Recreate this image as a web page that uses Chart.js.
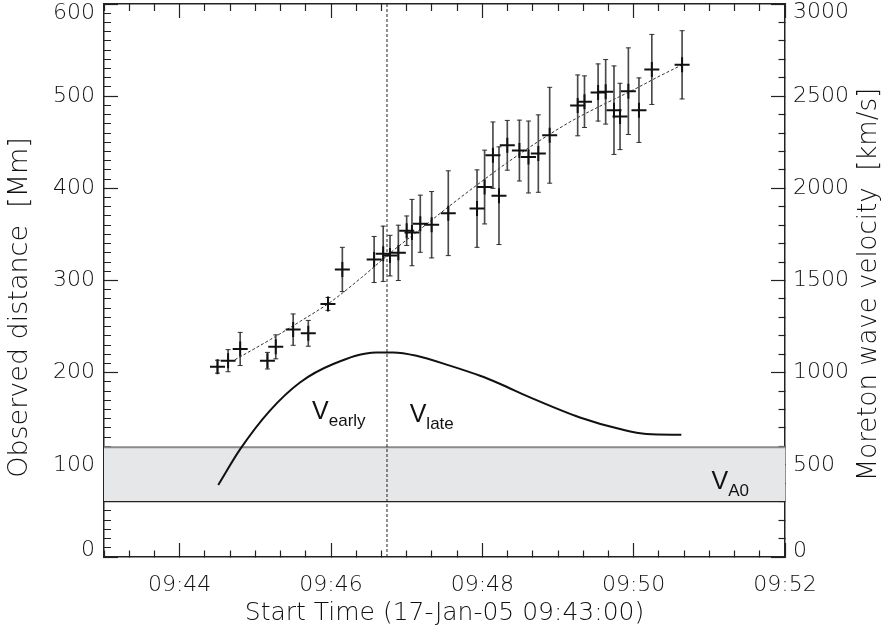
<!DOCTYPE html>
<html>
<head>
<meta charset="utf-8">
<title>Moreton wave distance / velocity</title>
<script src="https://cdn.jsdelivr.net/npm/chart.js@4.4.1/dist/chart.umd.min.js"></script>
<style>
  html, body { margin: 0; padding: 0; background: #fff; }
  #wrap { width: 888px; height: 632px; position: relative; }
</style>
</head>
<body>
<div id="wrap"><canvas id="waveChart"></canvas></div>
<script>
// ====================================================================================
// data (time in minutes after 09:00, distance in Mm, speed in km/s)
// ====================================================================================
var obsTime = [44.50, 44.64, 44.80, 45.16, 45.27, 45.50, 45.70, 45.96, 46.15, 46.57,
               46.69, 46.78, 46.89, 47.00, 47.07, 47.18, 47.33, 47.55, 47.93, 48.03,
               48.14, 48.22, 48.33, 48.49, 48.61, 48.74, 48.89, 49.26, 49.35, 49.53,
               49.63, 49.74, 49.82, 49.93, 50.07, 50.24, 50.64];
var obsDist = [206.5, 213, 225.7, 213, 228, 246.7, 242.7, 274.6, 312, 322.8,
               329, 327, 330, 354, 352, 361.6, 360.5, 373, 378, 401.4,
               436, 392, 446.7, 441, 434, 437.7, 457.6, 490, 494, 504,
               504.7, 484.8, 478, 505.4, 484.8, 529, 534];
var obsErr  = [7, 12, 18, 9, 13, 17, 14, 7, 24, 25,
               30, 22, 30, 16, 36, 31, 36, 46, 42, 40,
               36, 53, 27, 33, 39, 42, 52, 33, 28, 31,
               35, 48, 36, 47, 35, 38, 37];

// dashed fit through the distances
var fitTime = [44.73, 45.2, 45.6, 46.0, 46.4, 46.8, 47.2, 47.6, 48.0, 48.4, 48.8, 49.2, 49.6, 50.0, 50.3, 50.64];
var fitDist = [214, 236, 256, 277, 303, 331, 357, 383, 408, 432, 454, 474, 491, 507, 520, 534];

// velocity curve (right axis)
var velTime = [44.51, 44.80, 45.19, 45.59, 46.03, 46.60, 46.82, 47.13, 47.57, 47.97, 48.23, 48.63, 49.29, 49.82, 50.17, 50.63];
var velKms  = [391, 585, 793, 947, 1047, 1110, 1110, 1092, 1038, 983, 940, 866, 757, 694, 667, 663];

// V_A0 band (km/s) and the time of peak velocity
var bandKms = [300, 595];
var peakTime = 46.74;

// axes
var timeRange = [43, 52];
var xMajor = [44, 46, 48, 50, 52];
var xLabels = ['09:44', '09:46', '09:48', '09:50', '09:52'];
var distRange = [0, 600];
var distMajor = [0, 100, 200, 300, 400, 500, 600];
var distLabels = ['0', '100', '200', '300', '400', '500', '600'];
var velRange = [0, 3000];
var velMajor = [0, 500, 1000, 1500, 2000, 2500, 3000];
var velLabels = ['0', '500', '1000', '1500', '2000', '2500', '3000'];

var xTitle = 'Start Time (17-Jan-05 09:43:00)';
var yTitle = 'Observed distance  [Mm]';
var yRTitle = 'Moreton wave velocity  [km/s]';

// annotations: [big letter, subscript, time, km/s]
var notes = [
  ['V', 'early', 45.75, 750],
  ['V', 'late', 47.04, 730],
  ['V', 'A0', 51.03, 370]
];

// ====================================================================================

var AXIS_FONT = 'DejaVu Sans';
var INK = '#222';
var TEXT = '#111';

function majorIndex(list, v) {
  for (var i = 0; i < list.length; i++) {
    if (Math.abs(list[i] - v) < 1e-6) return i;
  }
  return -1;
}

function stepTicks(range, n) {
  var out = [];
  for (var i = 0; i <= n; i++) out.push({ value: range[0] + (range[1] - range[0]) * i / n });
  return out;
}

// one axis with long major and short minor (dashed away) tick marks, pointing inward
function makeAxis(opts) {
  return {
    type: 'linear',
    position: opts.position,
    min: opts.range[0],
    max: opts.range[1],
    offset: false,
    afterBuildTicks: function (scale) { scale.ticks = stepTicks(opts.range, opts.steps); },
    afterFit: function (scale) {
      if (opts.width !== undefined) scale.width = opts.width;
      if (opts.height !== undefined) scale.height = opts.height;
      // no extra room for labels hanging past the ends
      scale.paddingTop = scale.paddingBottom = scale.paddingLeft = scale.paddingRight = 0;
    },
    border: { display: true, color: INK, width: 1.5 },
    grid: {
      drawOnChartArea: false,
      drawTicks: true,
      offset: false,
      tickLength: -14,
      tickWidth: 1.2,
      tickColor: INK,
      tickBorderDash: function (ctx) {
        if (!ctx.tick || majorIndex(opts.major, ctx.tick.value) >= 0) return [];
        return opts.minorDash;
      }
    },
    ticks: {
      display: opts.labels !== undefined,
      autoSkip: false,
      maxRotation: 0,
      minRotation: 0,
      padding: opts.padding || 0,
      color: TEXT,
      font: function (ctx) {
        var lh = 1.2;
        if (ctx.tick && opts.nudge) {
          var k = majorIndex(opts.major, ctx.tick.value);
          if (k === 0) lh = opts.nudge[0] / 22;
          if (k === opts.major.length - 1) lh = opts.nudge[1] / 22;
        }
        return { family: AXIS_FONT, size: 22, weight: '200', lineHeight: lh };
      },
      callback: function (value) {
        if (!opts.labels) return '';
        var k = majorIndex(opts.major, value);
        if (k < 0) return '';
        if (opts.nudge && k === 0) return [opts.labels[k], ''];
        if (opts.nudge && k === opts.major.length - 1) return ['', opts.labels[k]];
        return opts.labels[k];
      }
    },
    title: opts.title || { display: false }
  };
}

// V with subscript text, placed through the chart scales
var notesPlugin = {
  id: 'notes',
  afterDatasetsDraw: function (chart) {
    var ctx = chart.ctx;
    var xs = chart.scales.x, ys = chart.scales.yR;
    ctx.save();
    ctx.fillStyle = '#111';
    ctx.textBaseline = 'alphabetic';
    ctx.textAlign = 'left';
    notes.forEach(function (n) {
      var px = xs.getPixelForValue(n[2]);
      var py = ys.getPixelForValue(n[3]);
      ctx.font = '25px "Liberation Sans"';
      ctx.fillText(n[0], px, py);
      var w = ctx.measureText(n[0]).width;
      ctx.font = '17px "Liberation Sans"';
      ctx.fillText(n[1], px + w, py + 7);
    });
    ctx.restore();
  }
};

// both side titles read bottom to top
var sideTitlePlugin = {
  id: 'sideTitles',
  afterDraw: function (chart) {
    var ctx = chart.ctx, area = chart.chartArea;
    var mid = (area.top + area.bottom) / 2;
    function put(text, x, y, size) {
      ctx.save();
      ctx.translate(x, y);
      ctx.rotate(-Math.PI / 2);
      ctx.textAlign = 'center';
      ctx.textBaseline = 'middle';
      ctx.fillStyle = TEXT;
      ctx.font = '200 ' + size + 'px "' + AXIS_FONT + '"';
      ctx.fillText(text, 0, 0);
      ctx.restore();
    }
    put(yTitle, 20, mid + 27, 27);
    put(yRTitle, chart.width - 19, mid + 4, 26);
  }
};

var capPoints = [];
var barPoints = [];
var obsPoints = [];
for (var i = 0; i < obsTime.length; i++) {
  obsPoints.push({ x: obsTime[i], y: obsDist[i] });
  barPoints.push({ x: obsTime[i], y: [obsDist[i] - obsErr[i], obsDist[i] + obsErr[i]] });
  capPoints.push({ x: obsTime[i], y: obsDist[i] - obsErr[i] });
  capPoints.push({ x: obsTime[i], y: obsDist[i] + obsErr[i] });
}

function pairs(xs, ys) {
  return xs.map(function (x, k) { return { x: x, y: ys[k] }; });
}

var chart = new Chart(document.getElementById('waveChart').getContext('2d'), {
  type: 'scatter',
  data: {
    datasets: [
      { // top of V_A0 band
        type: 'line', yAxisID: 'yR', order: 20,
        data: [{ x: timeRange[0], y: bandKms[1] }, { x: timeRange[1], y: bandKms[1] }],
        borderColor: '#8a8a8a', borderWidth: 2, pointRadius: 0,
        backgroundColor: '#e6e7e9', fill: { value: bandKms[0] }
      },
      { // bottom of band
        type: 'line', yAxisID: 'yR', order: 19,
        data: [{ x: timeRange[0], y: bandKms[0] }, { x: timeRange[1], y: bandKms[0] }],
        borderColor: '#222', borderWidth: 1.2, pointRadius: 0, fill: false
      },
      { // peak time
        type: 'line', yAxisID: 'y', order: 18,
        data: [{ x: peakTime, y: distRange[0] }, { x: peakTime, y: distRange[1] }],
        borderColor: '#222', borderWidth: 1, borderDash: [3, 2], pointRadius: 0, fill: false
      },
      { // fit
        type: 'line', yAxisID: 'y', order: 5,
        data: pairs(fitTime, fitDist),
        borderColor: '#333', borderWidth: 1, borderDash: [3, 2], pointRadius: 0,
        cubicInterpolationMode: 'monotone', fill: false
      },
      { // velocity
        type: 'line', yAxisID: 'yR', order: 6,
        data: pairs(velTime, velKms),
        borderColor: '#111', borderWidth: 2, pointRadius: 0,
        cubicInterpolationMode: 'monotone', fill: false
      },
      { // error bars
        type: 'bar', yAxisID: 'y', order: 4,
        data: barPoints, barThickness: 1, grouped: false,
        backgroundColor: '#4a4a4a', borderWidth: 0
      },
      { // error bar caps
        type: 'scatter', yAxisID: 'y', order: 3,
        data: capPoints, pointStyle: 'line', radius: 2.5,
        borderColor: '#333', borderWidth: 1
      },
      { // observations
        type: 'scatter', yAxisID: 'y', order: 1,
        data: obsPoints, pointStyle: 'cross', radius: 7.5,
        borderColor: '#111', borderWidth: 2
      }
    ]
  },
  options: {
    responsive: true,
    maintainAspectRatio: false,
    animation: false,
    devicePixelRatio: 1,
    layout: { autoPadding: false, padding: { top: 4, left: 0, right: 0, bottom: 0 } },
    plugins: { legend: { display: false }, tooltip: { enabled: false } },
    scales: {
      x: makeAxis({
        position: 'bottom', range: timeRange, steps: 27, major: xMajor, labels: xLabels,
        minorDash: [7, 100], padding: 29, height: 75,
        title: {
          display: true, text: xTitle, color: TEXT,
          font: { family: AXIS_FONT, size: 25, weight: '200' }, padding: { top: 0, bottom: 4 }
        }
      }),
      xTop: makeAxis({
        position: 'top', range: timeRange, steps: 27, major: xMajor,
        minorDash: [0, 7, 7, 100], height: 0
      }),
      y: makeAxis({
        position: 'left', range: distRange, steps: 60, major: distMajor, labels: distLabels,
        minorDash: [0, 7, 7, 100], padding: 23, width: 104, nudge: [14, 18]
      }),
      yR: makeAxis({
        position: 'right', range: velRange, steps: 30, major: velMajor, labels: velLabels,
        minorDash: [7, 100], padding: 22, width: 103, nudge: [12, 16]
      })
    }
  },
  plugins: [notesPlugin, sideTitlePlugin]
});
</script>
</body>
</html>
